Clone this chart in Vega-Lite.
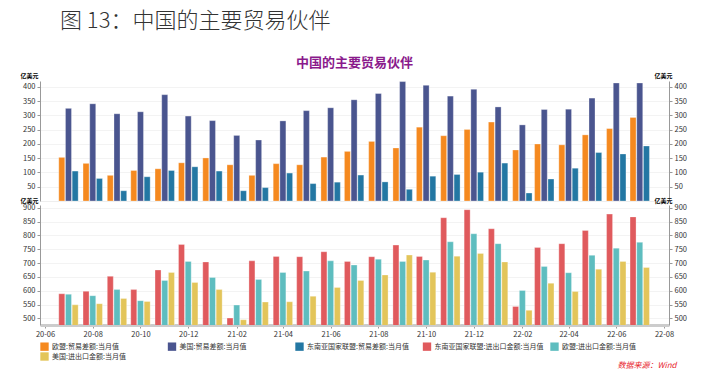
{
  "$schema": "https://vega.github.io/schema/vega-lite/v6.json",
  "padding": {"left": 20, "top": 10, "right": 5, "bottom": 0},
  "title": {"text": "数据来源：Wind", "orient": "bottom", "anchor": "end", "color": "#e8242c", "fontStyle": "italic", "fontSize": 8, "fontWeight": "normal", "offset": 1, "dx": -10, "font": "Noto Sans CJK SC"},
  "datasets": {
    "bal": [
      {"m": "2020-07-01", "s": "欧盟:贸易差额:当月值", "v": 153},
      {"m": "2020-08-01", "s": "欧盟:贸易差额:当月值", "v": 132},
      {"m": "2020-09-01", "s": "欧盟:贸易差额:当月值", "v": 90},
      {"m": "2020-10-01", "s": "欧盟:贸易差额:当月值", "v": 107},
      {"m": "2020-11-01", "s": "欧盟:贸易差额:当月值", "v": 113},
      {"m": "2020-12-01", "s": "欧盟:贸易差额:当月值", "v": 134},
      {"m": "2021-01-01", "s": "欧盟:贸易差额:当月值", "v": 151},
      {"m": "2021-02-01", "s": "欧盟:贸易差额:当月值", "v": 127},
      {"m": "2021-03-01", "s": "欧盟:贸易差额:当月值", "v": 90},
      {"m": "2021-04-01", "s": "欧盟:贸易差额:当月值", "v": 131},
      {"m": "2021-05-01", "s": "欧盟:贸易差额:当月值", "v": 127},
      {"m": "2021-06-01", "s": "欧盟:贸易差额:当月值", "v": 154},
      {"m": "2021-07-01", "s": "欧盟:贸易差额:当月值", "v": 174},
      {"m": "2021-08-01", "s": "欧盟:贸易差额:当月值", "v": 209},
      {"m": "2021-09-01", "s": "欧盟:贸易差额:当月值", "v": 186},
      {"m": "2021-10-01", "s": "欧盟:贸易差额:当月值", "v": 259},
      {"m": "2021-11-01", "s": "欧盟:贸易差额:当月值", "v": 229},
      {"m": "2021-12-01", "s": "欧盟:贸易差额:当月值", "v": 251},
      {"m": "2022-01-01", "s": "欧盟:贸易差额:当月值", "v": 277},
      {"m": "2022-02-01", "s": "欧盟:贸易差额:当月值", "v": 179},
      {"m": "2022-03-01", "s": "欧盟:贸易差额:当月值", "v": 200},
      {"m": "2022-04-01", "s": "欧盟:贸易差额:当月值", "v": 197},
      {"m": "2022-05-01", "s": "欧盟:贸易差额:当月值", "v": 232},
      {"m": "2022-06-01", "s": "欧盟:贸易差额:当月值", "v": 254},
      {"m": "2022-07-01", "s": "欧盟:贸易差额:当月值", "v": 293},
      {"m": "2020-07-01", "s": "美国:贸易差额:当月值", "v": 325},
      {"m": "2020-08-01", "s": "美国:贸易差额:当月值", "v": 341},
      {"m": "2020-09-01", "s": "美国:贸易差额:当月值", "v": 306},
      {"m": "2020-10-01", "s": "美国:贸易差额:当月值", "v": 313},
      {"m": "2020-11-01", "s": "美国:贸易差额:当月值", "v": 373},
      {"m": "2020-12-01", "s": "美国:贸易差额:当月值", "v": 298},
      {"m": "2021-01-01", "s": "美国:贸易差额:当月值", "v": 282},
      {"m": "2021-02-01", "s": "美国:贸易差额:当月值", "v": 230},
      {"m": "2021-03-01", "s": "美国:贸易差额:当月值", "v": 214},
      {"m": "2021-04-01", "s": "美国:贸易差额:当月值", "v": 281},
      {"m": "2021-05-01", "s": "美国:贸易差额:当月值", "v": 317},
      {"m": "2021-06-01", "s": "美国:贸易差额:当月值", "v": 327},
      {"m": "2021-07-01", "s": "美国:贸易差额:当月值", "v": 355},
      {"m": "2021-08-01", "s": "美国:贸易差额:当月值", "v": 377},
      {"m": "2021-09-01", "s": "美国:贸易差额:当月值", "v": 419},
      {"m": "2021-10-01", "s": "美国:贸易差额:当月值", "v": 406},
      {"m": "2021-11-01", "s": "美国:贸易差额:当月值", "v": 368},
      {"m": "2021-12-01", "s": "美国:贸易差额:当月值", "v": 392},
      {"m": "2022-01-01", "s": "美国:贸易差额:当月值", "v": 330},
      {"m": "2022-02-01", "s": "美国:贸易差额:当月值", "v": 267},
      {"m": "2022-03-01", "s": "美国:贸易差额:当月值", "v": 321},
      {"m": "2022-04-01", "s": "美国:贸易差额:当月值", "v": 322},
      {"m": "2022-05-01", "s": "美国:贸易差额:当月值", "v": 361},
      {"m": "2022-06-01", "s": "美国:贸易差额:当月值", "v": 414},
      {"m": "2022-07-01", "s": "美国:贸易差额:当月值", "v": 414},
      {"m": "2020-07-01", "s": "东南亚国家联盟:贸易差额:当月值", "v": 105},
      {"m": "2020-08-01", "s": "东南亚国家联盟:贸易差额:当月值", "v": 79},
      {"m": "2020-09-01", "s": "东南亚国家联盟:贸易差额:当月值", "v": 36},
      {"m": "2020-10-01", "s": "东南亚国家联盟:贸易差额:当月值", "v": 85},
      {"m": "2020-11-01", "s": "东南亚国家联盟:贸易差额:当月值", "v": 107},
      {"m": "2020-12-01", "s": "东南亚国家联盟:贸易差额:当月值", "v": 120},
      {"m": "2021-01-01", "s": "东南亚国家联盟:贸易差额:当月值", "v": 105},
      {"m": "2021-02-01", "s": "东南亚国家联盟:贸易差额:当月值", "v": 36},
      {"m": "2021-03-01", "s": "东南亚国家联盟:贸易差额:当月值", "v": 47},
      {"m": "2021-04-01", "s": "东南亚国家联盟:贸易差额:当月值", "v": 98},
      {"m": "2021-05-01", "s": "东南亚国家联盟:贸易差额:当月值", "v": 61},
      {"m": "2021-06-01", "s": "东南亚国家联盟:贸易差额:当月值", "v": 66},
      {"m": "2021-07-01", "s": "东南亚国家联盟:贸易差额:当月值", "v": 91},
      {"m": "2021-08-01", "s": "东南亚国家联盟:贸易差额:当月值", "v": 67},
      {"m": "2021-09-01", "s": "东南亚国家联盟:贸易差额:当月值", "v": 41},
      {"m": "2021-10-01", "s": "东南亚国家联盟:贸易差额:当月值", "v": 87},
      {"m": "2021-11-01", "s": "东南亚国家联盟:贸易差额:当月值", "v": 93},
      {"m": "2021-12-01", "s": "东南亚国家联盟:贸易差额:当月值", "v": 101},
      {"m": "2022-01-01", "s": "东南亚国家联盟:贸易差额:当月值", "v": 133},
      {"m": "2022-02-01", "s": "东南亚国家联盟:贸易差额:当月值", "v": 28},
      {"m": "2022-03-01", "s": "东南亚国家联盟:贸易差额:当月值", "v": 77},
      {"m": "2022-04-01", "s": "东南亚国家联盟:贸易差额:当月值", "v": 115},
      {"m": "2022-05-01", "s": "东南亚国家联盟:贸易差额:当月值", "v": 170},
      {"m": "2022-06-01", "s": "东南亚国家联盟:贸易差额:当月值", "v": 165},
      {"m": "2022-07-01", "s": "东南亚国家联盟:贸易差额:当月值", "v": 193}
    ],
    "trade": [
      {"m": "2020-07-01", "s": "东南亚国家联盟:进出口金额:当月值", "v": 589},
      {"m": "2020-08-01", "s": "东南亚国家联盟:进出口金额:当月值", "v": 598},
      {"m": "2020-09-01", "s": "东南亚国家联盟:进出口金额:当月值", "v": 652},
      {"m": "2020-10-01", "s": "东南亚国家联盟:进出口金额:当月值", "v": 604},
      {"m": "2020-11-01", "s": "东南亚国家联盟:进出口金额:当月值", "v": 675},
      {"m": "2020-12-01", "s": "东南亚国家联盟:进出口金额:当月值", "v": 767},
      {"m": "2021-01-01", "s": "东南亚国家联盟:进出口金额:当月值", "v": 704},
      {"m": "2021-02-01", "s": "东南亚国家联盟:进出口金额:当月值", "v": 501},
      {"m": "2021-03-01", "s": "东南亚国家联盟:进出口金额:当月值", "v": 708},
      {"m": "2021-04-01", "s": "东南亚国家联盟:进出口金额:当月值", "v": 724},
      {"m": "2021-05-01", "s": "东南亚国家联盟:进出口金额:当月值", "v": 723},
      {"m": "2021-06-01", "s": "东南亚国家联盟:进出口金额:当月值", "v": 741},
      {"m": "2021-07-01", "s": "东南亚国家联盟:进出口金额:当月值", "v": 706},
      {"m": "2021-08-01", "s": "东南亚国家联盟:进出口金额:当月值", "v": 723},
      {"m": "2021-09-01", "s": "东南亚国家联盟:进出口金额:当月值", "v": 765},
      {"m": "2021-10-01", "s": "东南亚国家联盟:进出口金额:当月值", "v": 724},
      {"m": "2021-11-01", "s": "东南亚国家联盟:进出口金额:当月值", "v": 864},
      {"m": "2021-12-01", "s": "东南亚国家联盟:进出口金额:当月值", "v": 893},
      {"m": "2022-01-01", "s": "东南亚国家联盟:进出口金额:当月值", "v": 824},
      {"m": "2022-02-01", "s": "东南亚国家联盟:进出口金额:当月值", "v": 543},
      {"m": "2022-03-01", "s": "东南亚国家联盟:进出口金额:当月值", "v": 756},
      {"m": "2022-04-01", "s": "东南亚国家联盟:进出口金额:当月值", "v": 770},
      {"m": "2022-05-01", "s": "东南亚国家联盟:进出口金额:当月值", "v": 818},
      {"m": "2022-06-01", "s": "东南亚国家联盟:进出口金额:当月值", "v": 877},
      {"m": "2022-07-01", "s": "东南亚国家联盟:进出口金额:当月值", "v": 867},
      {"m": "2020-07-01", "s": "欧盟:进出口金额:当月值", "v": 587},
      {"m": "2020-08-01", "s": "欧盟:进出口金额:当月值", "v": 582},
      {"m": "2020-09-01", "s": "欧盟:进出口金额:当月值", "v": 604},
      {"m": "2020-10-01", "s": "欧盟:进出口金额:当月值", "v": 564},
      {"m": "2020-11-01", "s": "欧盟:进出口金额:当月值", "v": 637},
      {"m": "2020-12-01", "s": "欧盟:进出口金额:当月值", "v": 706},
      {"m": "2021-01-01", "s": "欧盟:进出口金额:当月值", "v": 648},
      {"m": "2021-02-01", "s": "欧盟:进出口金额:当月值", "v": 548},
      {"m": "2021-03-01", "s": "欧盟:进出口金额:当月值", "v": 641},
      {"m": "2021-04-01", "s": "欧盟:进出口金额:当月值", "v": 666},
      {"m": "2021-05-01", "s": "欧盟:进出口金额:当月值", "v": 671},
      {"m": "2021-06-01", "s": "欧盟:进出口金额:当月值", "v": 708},
      {"m": "2021-07-01", "s": "欧盟:进出口金额:当月值", "v": 693},
      {"m": "2021-08-01", "s": "欧盟:进出口金额:当月值", "v": 714},
      {"m": "2021-09-01", "s": "欧盟:进出口金额:当月值", "v": 706},
      {"m": "2021-10-01", "s": "欧盟:进出口金额:当月值", "v": 711},
      {"m": "2021-11-01", "s": "欧盟:进出口金额:当月值", "v": 777},
      {"m": "2021-12-01", "s": "欧盟:进出口金额:当月值", "v": 806},
      {"m": "2022-01-01", "s": "欧盟:进出口金额:当月值", "v": 770},
      {"m": "2022-02-01", "s": "欧盟:进出口金额:当月值", "v": 601},
      {"m": "2022-03-01", "s": "欧盟:进出口金额:当月值", "v": 688},
      {"m": "2022-04-01", "s": "欧盟:进出口金额:当月值", "v": 665},
      {"m": "2022-05-01", "s": "欧盟:进出口金额:当月值", "v": 728},
      {"m": "2022-06-01", "s": "欧盟:进出口金额:当月值", "v": 754},
      {"m": "2022-07-01", "s": "欧盟:进出口金额:当月值", "v": 775},
      {"m": "2020-07-01", "s": "美国:进出口金额:当月值", "v": 549},
      {"m": "2020-08-01", "s": "美国:进出口金额:当月值", "v": 553},
      {"m": "2020-09-01", "s": "美国:进出口金额:当月值", "v": 572},
      {"m": "2020-10-01", "s": "美国:进出口金额:当月值", "v": 561},
      {"m": "2020-11-01", "s": "美国:进出口金额:当月值", "v": 666},
      {"m": "2020-12-01", "s": "美国:进出口金额:当月值", "v": 630},
      {"m": "2021-01-01", "s": "美国:进出口金额:当月值", "v": 604},
      {"m": "2021-02-01", "s": "美国:进出口金额:当月值", "v": 495},
      {"m": "2021-03-01", "s": "美国:进出口金额:当月值", "v": 559},
      {"m": "2021-04-01", "s": "美国:进出口金额:当月值", "v": 560},
      {"m": "2021-05-01", "s": "美国:进出口金额:当月值", "v": 580},
      {"m": "2021-06-01", "s": "美国:进出口金额:当月值", "v": 612},
      {"m": "2021-07-01", "s": "美国:进出口金额:当月值", "v": 637},
      {"m": "2021-08-01", "s": "美国:进出口金额:当月值", "v": 657},
      {"m": "2021-09-01", "s": "美国:进出口金额:当月值", "v": 729},
      {"m": "2021-10-01", "s": "美国:进出口金额:当月值", "v": 667},
      {"m": "2021-11-01", "s": "美国:进出口金额:当月值", "v": 725},
      {"m": "2021-12-01", "s": "美国:进出口金额:当月值", "v": 735},
      {"m": "2022-01-01", "s": "美国:进出口金额:当月值", "v": 704},
      {"m": "2022-02-01", "s": "美国:进出口金额:当月值", "v": 529},
      {"m": "2022-03-01", "s": "美国:进出口金额:当月值", "v": 627},
      {"m": "2022-04-01", "s": "美国:进出口金额:当月值", "v": 597},
      {"m": "2022-05-01", "s": "美国:进出口金额:当月值", "v": 678},
      {"m": "2022-06-01", "s": "美国:进出口金额:当月值", "v": 706},
      {"m": "2022-07-01", "s": "美国:进出口金额:当月值", "v": 684}
    ]
  },
  "vconcat": [
    {
      "title": {"text": "图 13：中国的主要贸易伙伴", "anchor": "start", "fontSize": 22, "fontWeight": 300, "color": "#333333", "font": "Noto Sans CJK SC", "dx": 40, "offset": 24},
      "spacing": 4,
      "bounds": "flush",
      "vconcat": [
        {
          "width": 629,
          "height": 120,
          "title": {"text": "中国的主要贸易伙伴", "color": "#8a1a8c", "fontSize": 13, "fontWeight": "bold", "anchor": "middle", "offset": 2, "font": "Noto Sans CJK SC"},
          "data": {"name": "bal"},
          "encoding": {
            "x": {"field": "m", "type": "temporal",
              "scale": {"type": "utc", "domain": [{"year": 2020, "month": 6, "date": 1, "utc": true}, {"year": 2022, "month": 8, "date": 1, "utc": true}]},
              "axis": {"labels": false, "ticks": false, "grid": false, "title": null, "domainColor": "#eeeeee", "domainWidth": 1}}
          },
          "layer": [
            {
              "transform": [{"filter": "datum.s === '欧盟:贸易差额:当月值'"}],
              "mark": {"type": "bar", "width": 6, "xOffset": -6.7, "stroke": "#ffffff", "strokeWidth": 0.5, "strokeOpacity": 0.6},
              "encoding": {
                "y": {"field": "v", "type": "quantitative", "scale": {"domain": [0, 421], "nice": false},
                  "axis": {"orient": "left", "values": [50, 100, 150, 200, 250, 300, 350, 400], "title": "亿美元", "titleAngle": 0, "titleX": -20, "titleY": -3, "titleAlign": "left", "titleBaseline": "bottom", "titleFontSize": 6, "titleFontWeight": "bold", "grid": true}},
                "color": {"field": "s", "type": "nominal", "title": null,
                  "scale": {"domain": ["欧盟:贸易差额:当月值", "美国:贸易差额:当月值", "东南亚国家联盟:贸易差额:当月值", "东南亚国家联盟:进出口金额:当月值", "欧盟:进出口金额:当月值", "美国:进出口金额:当月值"], "range": ["#f5891f", "#4a558f", "#2377a3", "#e05a5d", "#5ebdbf", "#e3c55a"]}}
              }
            },
            {
              "transform": [{"filter": "datum.s === '美国:贸易差额:当月值'"}],
              "mark": {"type": "bar", "width": 6, "xOffset": 0, "stroke": "#ffffff", "strokeWidth": 0.5, "strokeOpacity": 0.6},
              "encoding": {
                "y": {"field": "v", "type": "quantitative", "scale": {"domain": [0, 421], "nice": false},
                  "axis": {"orient": "right", "values": [50, 100, 150, 200, 250, 300, 350, 400], "title": "亿美元", "titleAngle": 0, "titleX": -15, "titleY": -3, "titleAlign": "left", "titleBaseline": "bottom", "titleFontSize": 6, "titleFontWeight": "bold", "grid": false}},
                "color": {"field": "s", "type": "nominal", "title": null,
                  "scale": {"domain": ["欧盟:贸易差额:当月值", "美国:贸易差额:当月值", "东南亚国家联盟:贸易差额:当月值", "东南亚国家联盟:进出口金额:当月值", "欧盟:进出口金额:当月值", "美国:进出口金额:当月值"], "range": ["#f5891f", "#4a558f", "#2377a3", "#e05a5d", "#5ebdbf", "#e3c55a"]}}
              }
            },
            {
              "transform": [{"filter": "datum.s === '东南亚国家联盟:贸易差额:当月值'"}],
              "mark": {"type": "bar", "width": 6, "xOffset": 6.7, "stroke": "#ffffff", "strokeWidth": 0.5, "strokeOpacity": 0.6},
              "encoding": {
                "y": {"field": "v", "type": "quantitative", "scale": {"domain": [0, 421], "nice": false}, "axis": null},
                "color": {"field": "s", "type": "nominal", "title": null,
                  "scale": {"domain": ["欧盟:贸易差额:当月值", "美国:贸易差额:当月值", "东南亚国家联盟:贸易差额:当月值", "东南亚国家联盟:进出口金额:当月值", "欧盟:进出口金额:当月值", "美国:进出口金额:当月值"], "range": ["#f5891f", "#4a558f", "#2377a3", "#e05a5d", "#5ebdbf", "#e3c55a"]}}
              }
            }
          ],
          "resolve": {"axis": {"y": "independent"}}
        },
        {
          "width": 629,
          "height": 120,
          "data": {"name": "trade"},
          "encoding": {
            "x": {"field": "m", "type": "temporal",
              "scale": {"type": "utc", "domain": [{"year": 2020, "month": 6, "date": 1, "utc": true}, {"year": 2022, "month": 8, "date": 1, "utc": true}]},
              "axis": {"title": null, "format": "%y-%m", "grid": false, "domainColor": "#cccccc", "domainWidth": 3, "tickColor": "#999999", "tickSize": 3, "labelPadding": 2,
                "values": [
                  {"year": 2020, "month": 6, "date": 1, "utc": true},
                  {"year": 2020, "month": 8, "date": 1, "utc": true},
                  {"year": 2020, "month": 10, "date": 1, "utc": true},
                  {"year": 2020, "month": 12, "date": 1, "utc": true},
                  {"year": 2021, "month": 2, "date": 1, "utc": true},
                  {"year": 2021, "month": 4, "date": 1, "utc": true},
                  {"year": 2021, "month": 6, "date": 1, "utc": true},
                  {"year": 2021, "month": 8, "date": 1, "utc": true},
                  {"year": 2021, "month": 10, "date": 1, "utc": true},
                  {"year": 2021, "month": 12, "date": 1, "utc": true},
                  {"year": 2022, "month": 2, "date": 1, "utc": true},
                  {"year": 2022, "month": 4, "date": 1, "utc": true},
                  {"year": 2022, "month": 6, "date": 1, "utc": true},
                  {"year": 2022, "month": 8, "date": 1, "utc": true}
                ]}}
          },
          "layer": [
            {
              "transform": [{"filter": "datum.s === '东南亚国家联盟:进出口金额:当月值'"}],
              "mark": {"type": "bar", "width": 6, "xOffset": -6.7, "clip": true, "stroke": "#ffffff", "strokeWidth": 0.5, "strokeOpacity": 0.6},
              "encoding": {
                "y": {"field": "v", "type": "quantitative", "scale": {"domain": [476, 910], "nice": false, "zero": false},
                  "axis": {"orient": "left", "values": [500, 550, 600, 650, 700, 750, 800, 850, 900], "title": "亿美元", "titleAngle": 0, "titleX": -20, "titleY": -2, "titleAlign": "left", "titleBaseline": "bottom", "titleFontSize": 6, "titleFontWeight": "bold", "grid": true}},
                "color": {"field": "s", "type": "nominal", "title": null,
                  "scale": {"domain": ["欧盟:贸易差额:当月值", "美国:贸易差额:当月值", "东南亚国家联盟:贸易差额:当月值", "东南亚国家联盟:进出口金额:当月值", "欧盟:进出口金额:当月值", "美国:进出口金额:当月值"], "range": ["#f5891f", "#4a558f", "#2377a3", "#e05a5d", "#5ebdbf", "#e3c55a"]}}
              }
            },
            {
              "transform": [{"filter": "datum.s === '欧盟:进出口金额:当月值'"}],
              "mark": {"type": "bar", "width": 6, "xOffset": 0, "clip": true, "stroke": "#ffffff", "strokeWidth": 0.5, "strokeOpacity": 0.6},
              "encoding": {
                "y": {"field": "v", "type": "quantitative", "scale": {"domain": [476, 910], "nice": false, "zero": false},
                  "axis": {"orient": "right", "values": [500, 550, 600, 650, 700, 750, 800, 850, 900], "title": "亿美元", "titleAngle": 0, "titleX": -15, "titleY": -2, "titleAlign": "left", "titleBaseline": "bottom", "titleFontSize": 6, "titleFontWeight": "bold", "grid": false}},
                "color": {"field": "s", "type": "nominal", "title": null,
                  "scale": {"domain": ["欧盟:贸易差额:当月值", "美国:贸易差额:当月值", "东南亚国家联盟:贸易差额:当月值", "东南亚国家联盟:进出口金额:当月值", "欧盟:进出口金额:当月值", "美国:进出口金额:当月值"], "range": ["#f5891f", "#4a558f", "#2377a3", "#e05a5d", "#5ebdbf", "#e3c55a"]}}
              }
            },
            {
              "transform": [{"filter": "datum.s === '美国:进出口金额:当月值'"}],
              "mark": {"type": "bar", "width": 6, "xOffset": 6.7, "clip": true, "stroke": "#ffffff", "strokeWidth": 0.5, "strokeOpacity": 0.6},
              "encoding": {
                "y": {"field": "v", "type": "quantitative", "scale": {"domain": [476, 910], "nice": false, "zero": false}, "axis": null},
                "color": {"field": "s", "type": "nominal", "title": null,
                  "scale": {"domain": ["欧盟:贸易差额:当月值", "美国:贸易差额:当月值", "东南亚国家联盟:贸易差额:当月值", "东南亚国家联盟:进出口金额:当月值", "欧盟:进出口金额:当月值", "美国:进出口金额:当月值"], "range": ["#f5891f", "#4a558f", "#2377a3", "#e05a5d", "#5ebdbf", "#e3c55a"]}}
              }
            }
          ],
          "resolve": {"axis": {"y": "independent"}}
        }
      ]
    }
  ],
  "config": {
    "font": "Noto Sans CJK SC",
    "view": {"stroke": null},
    "axis": {"labelFontSize": 7.5, "labelColor": "#333333", "domainColor": "#999999", "tickColor": "#999999", "tickSize": 3, "gridColor": "#f3f3f3", "labelFont": "Noto Sans CJK SC"},
    "legend": {"orient": "bottom", "direction": "horizontal", "columns": 5, "symbolType": "square", "symbolSize": 70, "symbolStrokeWidth": 0, "labelFontSize": 7, "labelColor": "#333333", "gridAlign": "all", "columnPadding": 6.5, "rowPadding": 1, "offset": 4, "labelLimit": 300, "labelOffset": 3}
  }
}
